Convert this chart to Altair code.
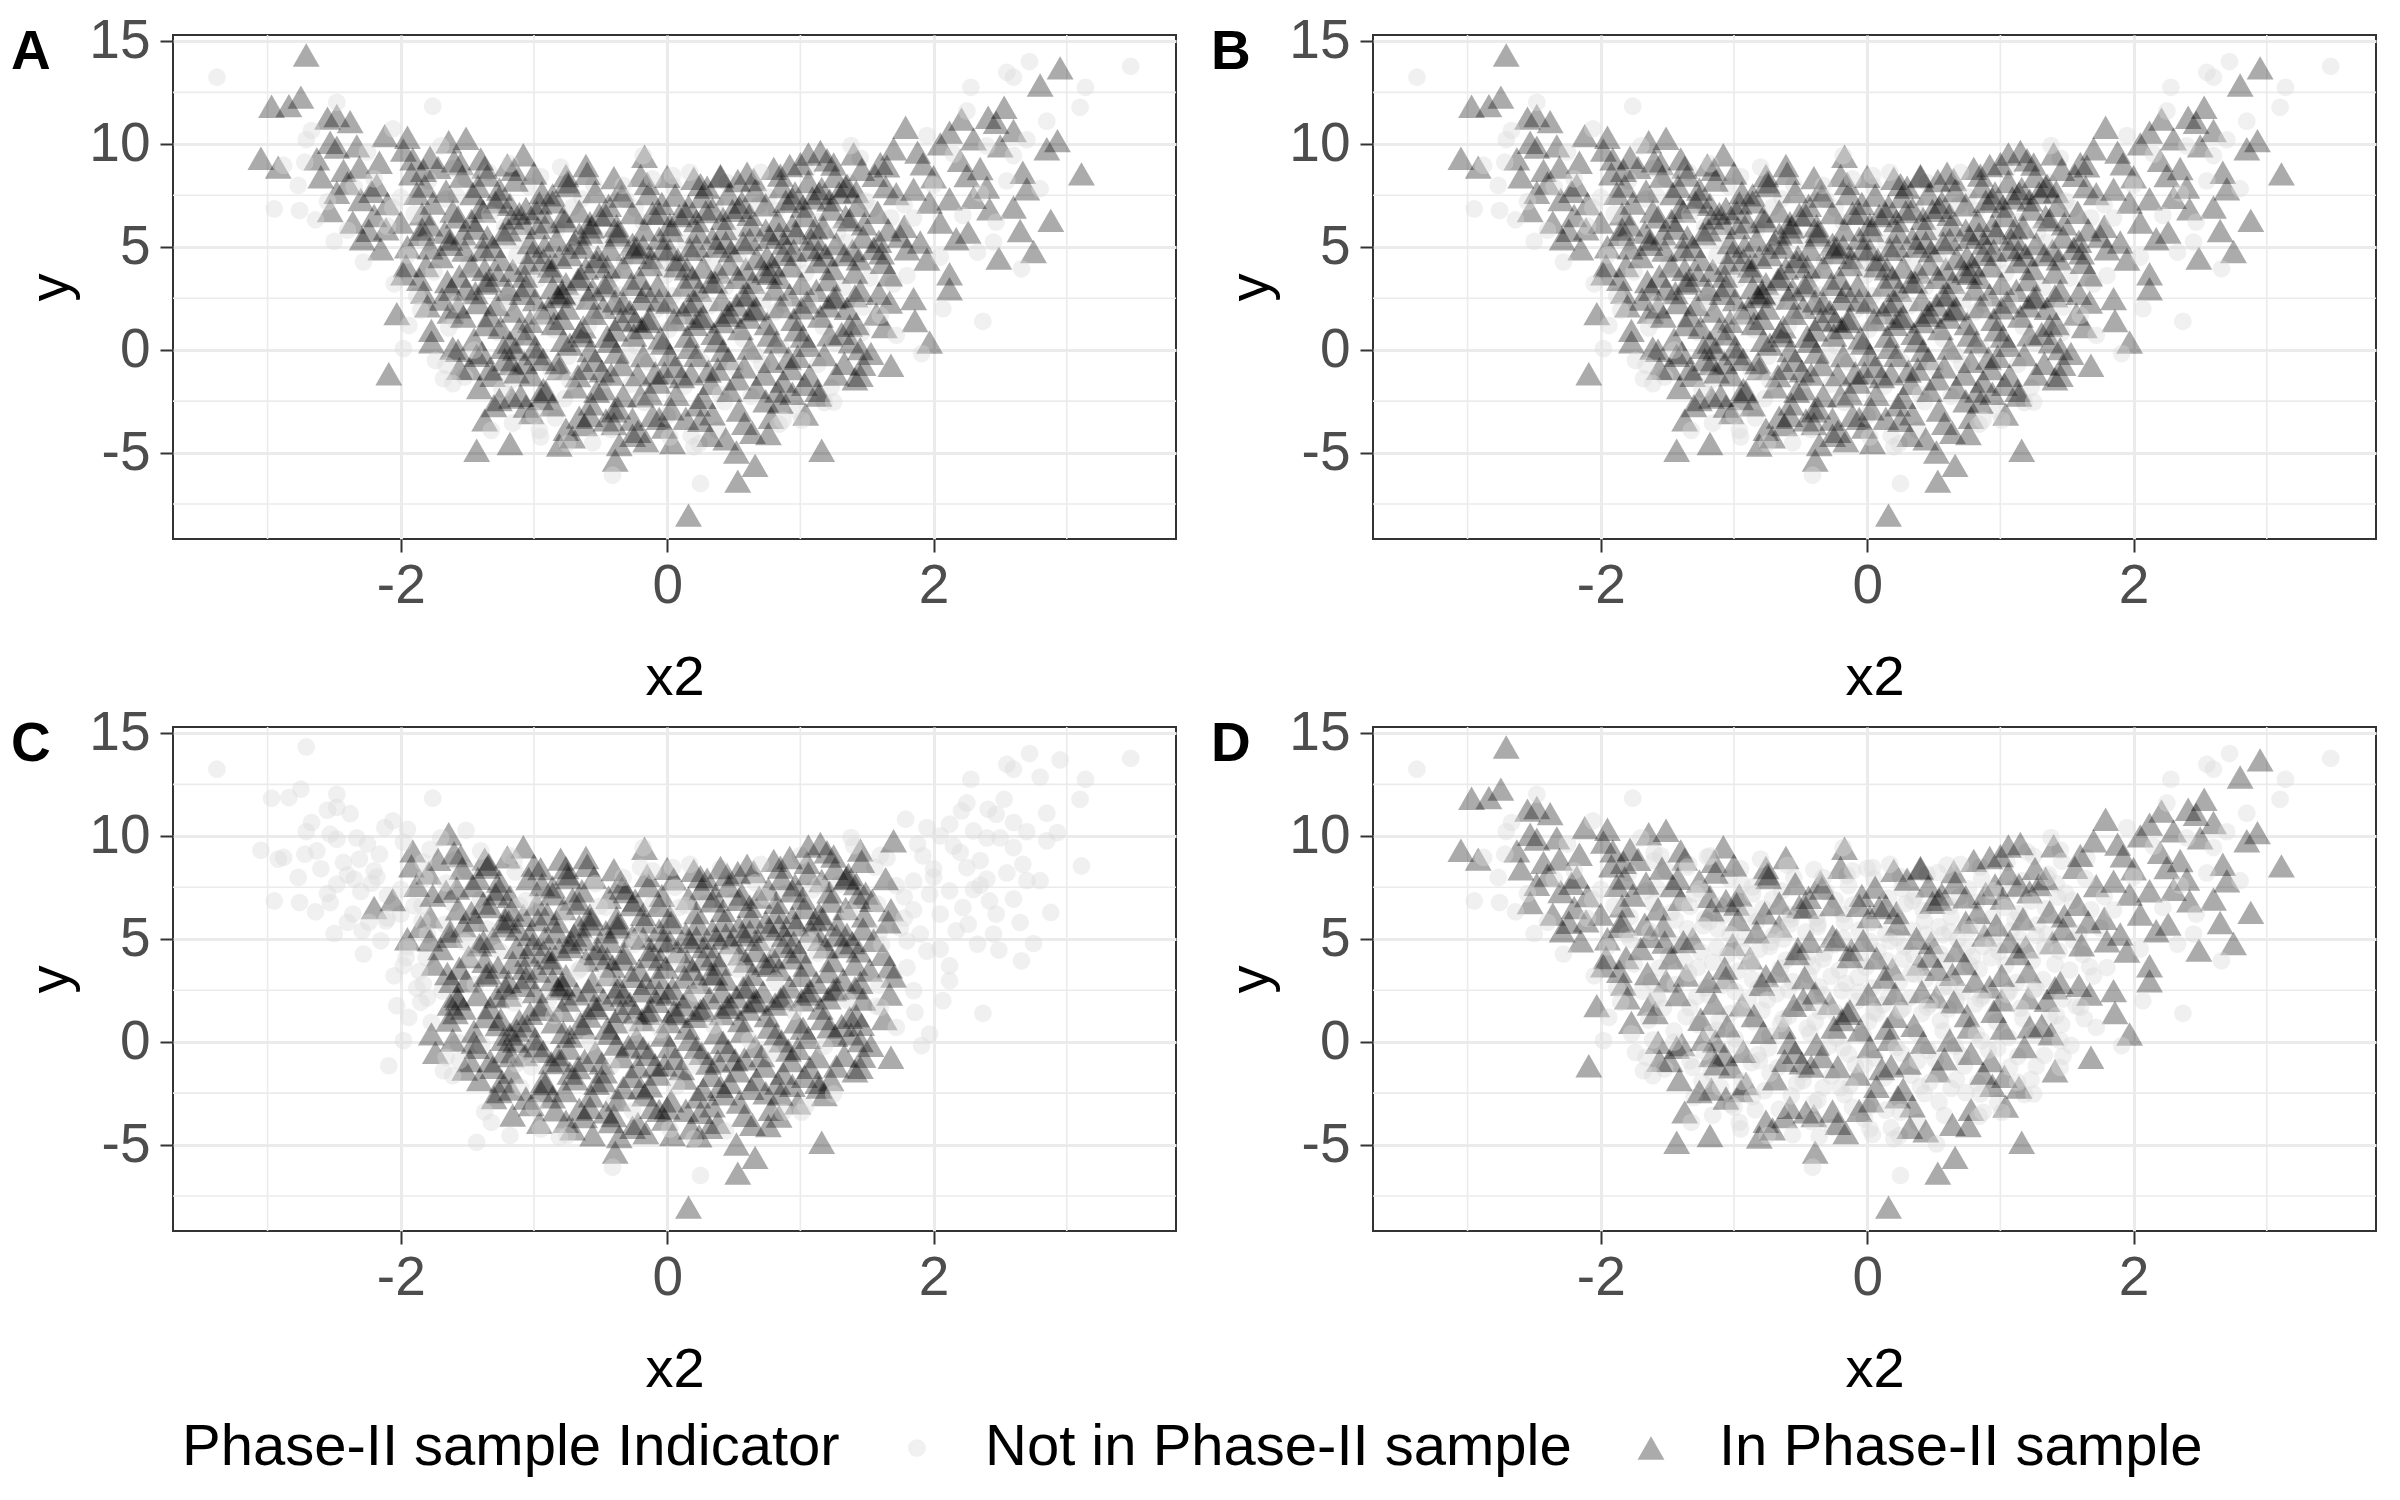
import altair as alt
import pandas as pd

FONT = "Liberation Sans"
NOT_IN = "Not in Phase-II sample"
IN = "In Phase-II sample"

# (x2, y, panels in which the point is in the Phase-II sample: a = A/B, c = C, d = D)
left_tail = [
    (-2.71, 14.32, "ad"), (-2.97, 11.83, "ad"), (-2.84, 11.86, "ad"), (-2.75, 12.27, "ad"),
    (-2.55, 11.25, "ad"), (-2.48, 11.38, "ad"), (-2.38, 11.08, "ad"), (-3.05, 9.30, "ad"),
    (-2.92, 8.87, "ad"), (-2.53, 10.08, "ad"), (-2.63, 9.27, "ad"), (-2.48, 9.84, "ad"),
    (-2.12, 10.40, "ad"), (-1.95, 10.32, "ad"), (-1.64, 10.10, "acd"), (-1.51, 10.27, "ad"),
    (-1.08, 9.47, "acd"), (-0.61, 8.95, "acd"), (-0.17, 9.40, "acd"), (-0.76, 8.46, "acd"),
    (-2.43, 8.71, "ad"), (-2.31, 8.87, "ad"), (-2.16, 9.11, "ad"), (-2.48, 7.65, "ad"),
    (-2.53, 6.76, "ad"), (-2.36, 6.20, "ad"), (-2.20, 6.52, "acd"), (-2.29, 5.39, "ad"),
    (-2.11, 5.87, "ad"), (-1.91, 9.27, "acd"), (-1.78, 9.35, "ad"), (-1.37, 8.87, "acd"),
    (-1.98, 3.69, "ad"), (-1.83, 2.80, "ad"), (-2.03, 1.75, "ad"), (-1.77, 0.94, "ad"),
    (-1.57, -0.03, "ad"), (-2.09, -1.17, "ad"), (-1.17, -0.68, "acd"), (-1.17, -2.30, "acd"),
    (-0.95, -2.38, "acd"), (-1.43, -4.89, "ad"), (-1.18, -4.56, "ad"), (-0.71, -4.24, "acd"),
    (-0.39, -5.37, "acd"), (-0.58, -3.19, "acd"), (-0.40, -3.59, "acd"), (-0.26, -4.16, "ac"),
    (-0.11, -3.19, "ac"), (0.16, -8.04, "acd"), (-1.31, -1.25, "ac"), (-0.48, -1.89, "ac"),
    (-1.48, -0.92, "acd"), (-0.81, -0.92, "ac"), (-1.11, 1.02, "ac"), (-1.63, 1.83, "acd"),
    (-1.51, 2.96, "acd"), (-1.96, 4.09, "ad"), (-1.81, 4.09, "ad"),
]
left_arm = [
    (-2.40, 8.10, "ad"), (-2.22, 7.70, "ad"), (-1.92, 8.55, "acd"), (-2.30, 7.30, "ad"),
    (-2.10, 7.10, "ad"), (-1.88, 7.60, "acd"), (-2.00, 6.20, "ad"), (-1.85, 5.60, "acd"),
    (-2.15, 4.90, "ad"), (-1.95, 5.00, "acd"), (-2.06, 6.90, "c"), (-2.60, 8.40, "ad"),
    (-2.18, 8.00, "ad"), (-1.98, 9.70, "ad"), (-2.33, 9.90, "ad"), (-1.84, 6.60, "ad"),
    (-2.24, 5.80, "ad"),
    (-2.35, 7.90, ""), (-2.20, 8.30, ""), (-2.00, 7.40, ""), (-1.90, 6.60, ""),
    (-2.10, 6.00, ""), (-1.80, 5.20, ""), (-2.40, 5.80, ""), (-1.95, 4.60, ""),
    (-2.25, 9.60, ""), (-1.70, 9.90, ""), (-1.60, 8.80, ""), (-2.55, 7.20, ""),
    (-2.05, 3.20, ""), (-1.88, 2.60, ""),
]
left_circles = [
    (-3.38, 13.24, ""), (-1.76, 11.83, ""), (-2.67, 10.65, ""), (-2.71, 10.21, ""),
    (-2.77, 7.98, ""), (-2.72, 9.11, ""), (-2.88, 8.95, ""), (-2.95, 6.84, ""),
    (-2.76, 6.76, ""), (-2.64, 6.31, ""), (-2.50, 5.26, ""), (-2.28, 4.26, ""),
    (-2.48, 12.02, ""), (-2.06, 10.73, ""), (-1.98, 0.05, ""), (-1.94, 1.18, ""),
    (-1.85, 1.91, ""), (-1.68, -1.41, ""), (-1.61, -1.65, ""), (-1.66, -0.76, ""),
    (-1.32, -3.92, ""), (-0.95, -4.24, ""), (-0.75, -4.56, ""), (-0.41, -6.10, ""),
    (0.02, -4.24, ""), (-1.00, -3.19, ""), (-1.18, 9.03, ""), (-0.18, 9.43, ""),
    (-0.11, 8.30, ""), (0.04, 8.46, ""), (-0.33, 7.98, ""),
]
right_tail = [
    (2.95, 13.69, "ad"), (2.80, 12.86, "ad"), (2.53, 11.78, "ad"), (2.41, 11.29, "ad"),
    (2.21, 11.21, "ad"), (2.12, 10.57, "ad"), (2.60, 10.65, "ad"), (2.93, 10.16, "ad"),
    (2.85, 9.76, "ad"), (3.11, 8.54, "ad"), (2.67, 8.62, "ad"), (2.70, 7.82, "ad"),
    (2.60, 6.93, "ad"), (2.42, 6.84, "ad"), (2.88, 6.28, "ad"), (2.65, 5.79, "ad"),
    (2.75, 4.77, "ad"), (2.49, 4.45, "ad"), (2.26, 5.71, "ad"), (2.12, 3.69, "ad"),
    (2.12, 2.96, "ad"), (1.97, 0.37, "ad"), (1.86, 1.42, "ad"), (1.67, 2.31, "acd"),
    (1.68, -0.76, "acd"), (1.41, -1.41, "acd"), (1.16, -4.89, "acd"), (0.76, -4.08, "acd"),
    (0.53, -6.39, "acd"), (0.66, -5.62, "acd"), (0.52, -4.97, "ac"), (1.13, -1.97, "ac"),
    (0.85, -2.54, "ac"), (1.79, 10.81, "ad"), (1.15, 9.63, "acd"), (1.06, 9.51, "acd"),
    (0.92, 8.95, "acd"), (0.40, 8.46, "acd"), (0.53, 8.22, "ac"), (0.30, 7.90, "acd"),
    (1.35, 7.98, "ac"), (1.70, 9.76, "acd"), (1.92, 9.03, "ad"), (2.30, 10.24, "ad"),
    (2.47, 11.05, "ad"), (2.25, 8.46, "ad"), (1.97, 7.17, "ad"), (2.12, 7.33, "ad"),
    (1.90, 5.23, "ad"), (2.17, 5.39, "ad"), (1.85, 2.48, "ad"), (1.45, 0.05, "ac"),
    (1.45, -1.25, "ac"), (0.25, -3.43, "ac"), (0.32, -4.16, "acd"),
]
right_arm = [
    (2.00, 8.40, "ad"), (2.30, 7.40, "ad"), (1.85, 7.80, "ad"), (2.05, 6.20, "ad"),
    (2.35, 8.80, "ad"), (1.78, 6.00, "ad"), (1.95, 4.40, "ad"), (2.20, 9.20, "ad"),
    (2.50, 9.90, "ad"), (1.80, 4.90, "ad"), (2.05, 10.00, "ad"), (1.88, 9.60, "ad"),
    (2.40, 7.90, "ad"),
    (2.00, 8.00, ""), (2.15, 9.50, ""), (2.35, 7.60, ""), (1.85, 6.40, ""),
    (2.05, 4.50, ""), (2.55, 8.20, ""), (1.80, 3.60, ""), (2.40, 9.90, ""),
    (2.70, 10.20, ""), (1.95, 10.40, ""), (2.25, 11.60, ""), (2.85, 11.10, ""),
]
right_circles = [
    (3.48, 13.77, ""), (2.72, 14.00, ""), (2.60, 13.24, ""), (2.55, 13.48, ""),
    (3.14, 12.75, ""), (3.10, 11.78, ""), (2.28, 12.75, ""), (2.66, 3.93, ""),
    (2.37, 1.38, ""), (1.91, -0.19, ""), (1.72, 0.70, ""), (1.25, -2.54, ""),
    (1.01, -3.43, ""), (0.87, -3.43, ""), (0.25, -6.50, ""), (0.20, -4.72, ""),
    (1.38, 9.92, ""), (2.07, 1.99, ""), (2.60, 9.43, ""), (2.80, 7.82, ""),
    (2.47, 6.20, ""), (2.45, 5.23, ""), (2.33, 4.74, ""), (0.17, 8.62, ""),
    (0.70, 8.62, ""), (2.22, 6.52, ""), (1.60, 1.67, ""),
]
core = [
    (-1.72, 8.86, "acd"), (-1.66, 7.31, "c"), (-1.78, 6.07, "ac"), (-1.63, 5.12, "acd"),
    (-1.75, 3.77, "c"), (-1.69, 2.46, "a"), (-1.64, 1.05, "c"), (-1.77, 0.38, "ac"),
    (-1.61, 6.73, "a"), (-1.70, 4.52, "acd"), (-1.79, 8.21, "c"), (-1.62, 2.93, "ac"),
    (-1.74, -0.52, "c"), (-1.67, 5.71, "ad"),
    (-1.55, 9.04, "ac"), (-1.42, 7.94, "acd"), (-1.58, 7.47, "c"), (-1.47, 6.28, "ac"),
    (-1.53, 5.63, "acd"), (-1.41, 4.71, "c"), (-1.56, 3.58, "ac"), (-1.44, 2.77, "a"),
    (-1.59, 1.42, "cd"), (-1.45, 0.51, "ac"), (-1.52, -1.33, "c"), (-1.40, 6.92, "ad"),
    (-1.49, 4.13, "c"), (-1.57, 2.08, "ac"), (-1.43, -0.27, "acd"), (-1.51, 8.32, ""),
    (-1.34, 8.62, "c"), (-1.26, 7.81, "acd"), (-1.38, 6.74, "ac"), (-1.22, 5.97, "c"),
    (-1.31, 5.02, "acd"), (-1.25, 4.38, "a"), (-1.36, 3.24, "acd"), (-1.21, 2.61, "c"),
    (-1.33, 1.66, "ac"), (-1.27, 0.83, "c"), (-1.39, -0.14, "ad"), (-1.24, -1.92, "c"),
    (-1.29, 7.18, "ac"), (-1.37, 3.91, "ac"), (-1.23, 0.12, "acd"), (-1.30, -2.71, "ac"),
    (-1.35, 5.48, "a"), (-1.28, 2.19, "ac"),
    (-1.15, 8.77, "ad"), (-1.04, 7.93, "c"), (-1.18, 7.06, "acd"), (-1.08, 6.14, "ac"),
    (-1.12, 5.47, "c"), (-1.01, 4.73, "acd"), (-1.16, 3.86, "ac"), (-1.06, 3.12, "acd"),
    (-1.19, 2.27, "c"), (-1.03, 1.38, "ac"), (-1.13, 0.56, "c"), (-1.07, -0.63, "acd"),
    (-1.17, -1.48, "c"), (-1.02, -3.06, "ac"), (-1.11, 6.62, "a"), (-1.09, 2.74, "ac"),
    (-1.14, 0.03, "acd"), (-1.05, 4.21, "ac"), (-1.10, -2.22, "a"), (-1.19, 5.83, "ac"),
    (-0.95, 8.41, "c"), (-0.86, 7.52, "ac"), (-0.98, 6.69, "acd"), (-0.83, 5.84, "c"),
    (-0.92, 5.03, "ac"), (-0.88, 4.07, "acd"), (-0.97, 3.43, "c"), (-0.82, 2.58, "ac"),
    (-0.94, 1.79, "acd"), (-0.85, 0.96, "c"), (-0.99, 0.14, "ac"), (-0.87, -1.02, "c"),
    (-0.91, -2.03, "acd"), (-0.84, -3.31, "c"), (-0.96, 7.13, "ad"), (-0.81, 4.49, "ac"),
    (-0.89, 2.04, "a"), (-0.93, -0.47, "acd"), (-0.90, 6.21, "ac"), (-0.86, 3.02, "ac"),
    (-0.75, 8.16, "acd"), (-0.64, 7.33, "c"), (-0.78, 6.47, "ac"), (-0.66, 5.62, "acd"),
    (-0.72, 4.84, "c"), (-0.61, 3.96, "ac"), (-0.76, 3.21, "acd"), (-0.68, 2.33, "c"),
    (-0.79, 1.52, "ac"), (-0.63, 0.68, "acd"), (-0.74, -0.31, "c"), (-0.67, -1.26, "ac"),
    (-0.77, -2.38, "c"), (-0.62, -3.64, "acd"), (-0.71, 6.93, "c"), (-0.65, 3.57, "a"),
    (-0.73, 0.27, "ac"), (-0.69, -1.81, "acd"), (-0.70, 5.18, "ac"), (-0.78, 2.71, "ac"),
    (-0.63, 1.11, "a"),
    (-0.55, 7.98, "c"), (-0.44, 7.02, "acd"), (-0.58, 6.17, "ac"), (-0.46, 5.34, "c"),
    (-0.52, 4.53, "acd"), (-0.41, 3.68, "c"), (-0.56, 2.92, "ac"), (-0.48, 2.06, "acd"),
    (-0.59, 1.24, "c"), (-0.43, 0.41, "ac"), (-0.54, -0.52, "acd"), (-0.47, -1.47, "c"),
    (-0.57, -2.63, "ac"), (-0.42, -3.88, "c"), (-0.51, 6.58, "ad"), (-0.45, 4.04, "ac"),
    (-0.53, 1.63, "c"), (-0.49, -1.03, "acd"), (-0.40, -2.97, "a"), (-0.58, 5.71, "ac"),
    (-0.44, 3.26, "ac"),
    (-0.35, 7.77, "acd"), (-0.24, 6.88, "c"), (-0.38, 6.02, "ac"), (-0.26, 5.13, "acd"),
    (-0.32, 4.31, "c"), (-0.21, 3.48, "ac"), (-0.36, 2.66, "c"), (-0.28, 1.87, "acd"),
    (-0.39, 0.97, "ac"), (-0.23, 0.18, "c"), (-0.34, -0.72, "acd"), (-0.27, -1.68, "c"),
    (-0.37, -2.83, "ac"), (-0.22, -3.97, "acd"), (-0.31, 7.29, "c"), (-0.25, 4.72, "a"),
    (-0.33, 2.27, "ac"), (-0.29, -0.21, "c"), (-0.20, -2.24, "ac"), (-0.37, 5.58, "ac"),
    (-0.24, 1.42, "ac"),
    (-0.15, 8.08, "ac"), (-0.04, 7.11, "acd"), (-0.18, 6.19, "c"), (-0.06, 5.42, "ac"),
    (-0.12, 4.47, "acd"), (-0.01, 3.62, "c"), (-0.16, 2.83, "ac"), (-0.08, 1.96, "c"),
    (-0.19, 1.07, "acd"), (-0.03, 0.32, "ac"), (-0.14, -0.61, "c"), (-0.07, -1.57, "acd"),
    (-0.17, -2.58, "c"), (-0.02, -3.76, "ac"), (-0.11, 6.64, "a"), (-0.05, 4.02, "c"),
    (-0.13, 1.51, "acd"), (-0.09, -1.12, "ac"), (0.00, -3.21, "c"), (-0.18, 5.03, "ac"),
    (-0.06, 2.41, "ac"),
    (0.05, 7.91, "c"), (0.16, 6.97, "ac"), (0.02, 6.08, "acd"), (0.14, 5.23, "c"),
    (0.08, 4.38, "ac"), (0.19, 3.53, "acd"), (0.04, 2.61, "c"), (0.12, 1.79, "ac"),
    (0.01, 0.98, "c"), (0.17, 0.12, "acd"), (0.06, -0.81, "ac"), (0.13, -1.77, "c"),
    (0.03, -2.87, "acd"), (0.18, -4.18, "c"), (0.09, 6.52, "ad"), (0.15, 3.93, "ac"),
    (0.07, 1.37, "c"), (0.11, -1.31, "acd"), (0.02, 4.86, "ac"), (0.16, 2.18, "ac"),
    (0.25, 8.02, "ac"), (0.36, 7.08, "c"), (0.22, 6.27, "acd"), (0.34, 5.41, "ac"),
    (0.28, 4.62, "c"), (0.39, 3.77, "acd"), (0.24, 2.88, "ac"), (0.32, 2.13, "c"),
    (0.21, 1.23, "acd"), (0.37, 0.43, "ac"), (0.26, -0.57, "c"), (0.33, -1.63, "ac"),
    (0.23, -2.68, "acd"), (0.38, -3.92, "c"), (0.29, 6.71, "a"), (0.35, 4.19, "c"),
    (0.27, 1.62, "ac"), (0.31, -1.04, "acd"), (0.40, -2.17, "c"), (0.22, 5.06, "ac"),
    (0.36, 3.28, "ac"),
    (0.45, 8.12, "c"), (0.56, 7.17, "acd"), (0.42, 6.38, "ac"), (0.54, 5.59, "c"),
    (0.48, 4.81, "acd"), (0.59, 3.92, "ac"), (0.44, 3.04, "c"), (0.52, 2.18, "acd"),
    (0.41, 1.37, "ac"), (0.57, 0.52, "c"), (0.46, -0.43, "ac"), (0.53, -1.42, "acd"),
    (0.43, -2.53, "c"), (0.58, -3.58, "ac"), (0.49, 6.77, "ad"), (0.55, 4.27, "c"),
    (0.47, 1.83, "ac"), (0.51, -0.88, "c"), (0.44, 5.21, "ac"), (0.57, 2.63, "ac"),
    (0.65, 8.27, "acd"), (0.76, 7.42, "c"), (0.62, 6.58, "ac"), (0.74, 5.81, "acd"),
    (0.68, 4.97, "c"), (0.79, 4.13, "ac"), (0.64, 3.27, "acd"), (0.72, 2.42, "c"),
    (0.61, 1.58, "ac"), (0.77, 0.71, "acd"), (0.66, -0.23, "c"), (0.73, -1.18, "ac"),
    (0.63, -2.27, "c"), (0.78, -3.29, "acd"), (0.69, 7.03, "c"), (0.75, 4.52, "a"),
    (0.67, 2.01, "ac"), (0.71, -0.68, "c"), (0.62, 5.36, "ac"), (0.77, 3.71, "ac"),
    (0.85, 8.48, "ac"), (0.96, 7.62, "acd"), (0.82, 6.77, "c"), (0.94, 6.03, "ac"),
    (0.88, 5.18, "acd"), (0.99, 4.37, "c"), (0.84, 3.52, "ac"), (0.92, 2.67, "acd"),
    (0.81, 1.83, "c"), (0.97, 0.96, "ac"), (0.86, 0.04, "c"), (0.93, -0.92, "acd"),
    (0.83, -2.01, "ac"), (0.98, -2.97, "c"), (0.89, 7.21, "ad"), (0.95, 4.83, "ac"),
    (0.87, 2.22, "c"), (0.91, -0.41, "ac"), (0.84, 5.64, "ac"),
    (1.05, 8.71, "c"), (1.16, 7.83, "ac"), (1.02, 6.98, "acd"), (1.14, 6.22, "c"),
    (1.08, 5.38, "ac"), (1.19, 4.61, "acd"), (1.04, 3.72, "c"), (1.12, 2.88, "ac"),
    (1.01, 2.03, "acd"), (1.17, 1.12, "c"), (1.06, 0.21, "ac"), (1.13, -0.72, "c"),
    (1.03, -1.68, "acd"), (1.18, -2.57, "c"), (1.09, 7.38, "a"), (1.15, 4.97, "ac"),
    (1.07, 2.47, "c"), (1.11, 5.92, "ac"),
    (1.25, 9.02, "ac"), (1.36, 8.13, "c"), (1.22, 7.28, "acd"), (1.34, 6.47, "ac"),
    (1.28, 5.68, "c"), (1.39, 4.82, "acd"), (1.24, 3.94, "ac"), (1.32, 3.01, "c"),
    (1.21, 2.13, "acd"), (1.37, 1.18, "ac"), (1.26, 0.31, "c"), (1.33, -0.66, "ac"),
    (1.23, -1.84, "c"), (1.29, 7.63, "ad"), (1.35, 5.22, "c"), (1.27, 2.58, "ac"),
    (1.31, 0.79, "acd"),
    (1.45, 9.31, "c"), (1.56, 8.47, "ad"), (1.42, 7.68, "ac"), (1.54, 6.87, "c"),
    (1.48, 6.12, "acd"), (1.59, 5.27, "a"), (1.44, 4.41, "ac"), (1.52, 3.48, "c"),
    (1.41, 2.62, "acd"), (1.57, 1.73, "a"), (1.46, 0.84, "c"), (1.53, -0.18, "ac"),
    (1.49, 7.22, "c"), (1.55, 4.93, "ac"), (1.47, 2.07, "c"),
    (1.65, 8.93, "a"), (1.72, 7.58, "ad"), (1.68, 6.41, "c"), (1.75, 5.52, "a"),
    (1.62, 4.24, "ac"), (1.70, 3.19, "c"), (1.78, 7.04, ""),
]
core_b = [
    (-1.60, 9.18, "ac"), (-1.54, 8.43, "acd"), (-1.66, 7.71, "ad"), (-1.57, 6.46, "acd"),
    (-1.63, 5.37, "ac"), (-1.52, 4.84, "ad"), (-1.65, 3.31, "acd"), (-1.58, 2.22, "c"),
    (-1.53, 1.63, "ac"), (-1.61, 0.08, "ac"), (-1.56, -0.91, "ad"),
    (-1.40, 9.27, "ad"), (-1.35, 8.48, "ac"), (-1.46, 7.59, "acd"), (-1.33, 6.57, "c"),
    (-1.44, 5.91, "ac"), (-1.38, 4.86, "acd"), (-1.47, 4.08, "ad"), (-1.34, 3.34, "ac"),
    (-1.42, 2.29, "acd"), (-1.36, 1.22, "ac"), (-1.45, -0.02, "c"), (-1.33, -0.93, "ac"),
    (-1.41, -1.84, "acd"), (-1.37, -3.41, "ad"),
    (-1.20, 8.98, "ac"), (-1.14, 8.24, "ad"), (-1.26, 7.42, "ac"), (-1.17, 6.41, "acd"),
    (-1.23, 5.63, "ac"), (-1.13, 4.58, "c"), (-1.27, 3.62, "ac"), (-1.19, 2.93, "acd"),
    (-1.15, 1.88, "ad"), (-1.25, 1.09, "acd"), (-1.18, 0.37, "ac"), (-1.22, -0.48, "ac"),
    (-1.13, -1.07, "ad"), (-1.26, -2.42, "acd"), (-1.16, -3.57, "c"),
    (-1.00, 8.58, "acd"), (-0.94, 7.64, "ac"), (-1.06, 6.86, "ad"), (-0.97, 5.93, "acd"),
    (-1.03, 5.21, "ac"), (-0.93, 4.37, "ac"), (-1.07, 3.58, "acd"), (-0.99, 2.44, "ac"),
    (-0.95, 1.57, "c"), (-1.05, 0.77, "acd"), (-0.98, -0.19, "ac"), (-1.02, -1.22, "ad"),
    (-0.93, -1.93, "ac"), (-1.06, -2.74, "acd"), (-0.96, -3.92, "c"),
    (-0.80, 8.87, "c"), (-0.74, 7.97, "acd"), (-0.86, 7.18, "ac"), (-0.77, 6.26, "ad"),
    (-0.83, 5.34, "acd"), (-0.73, 4.62, "ac"), (-0.87, 3.81, "ac"), (-0.79, 2.79, "acd"),
    (-0.75, 2.02, "ac"), (-0.85, 1.27, "ad"), (-0.78, 0.46, "acd"), (-0.82, -0.63, "ac"),
    (-0.73, -1.52, "c"), (-0.86, -2.68, "ac"), (-0.76, -3.87, "acd"), (-0.81, -4.63, "ad"),
    (-0.60, 8.57, "ac"), (-0.54, 7.68, "ad"), (-0.66, 6.74, "acd"), (-0.57, 5.97, "ac"),
    (-0.63, 4.98, "ac"), (-0.53, 4.28, "acd"), (-0.67, 3.43, "ad"), (-0.59, 2.51, "ac"),
    (-0.55, 1.77, "acd"), (-0.65, 0.88, "ac"), (-0.58, -0.04, "ad"), (-0.62, -0.91, "acd"),
    (-0.53, -2.02, "ac"), (-0.66, -3.28, "ac"), (-0.56, -4.52, "c"),
    (-0.40, 8.36, "ac"), (-0.34, 7.47, "acd"), (-0.46, 6.53, "ad"), (-0.37, 5.74, "ac"),
    (-0.43, 4.88, "acd"), (-0.33, 4.02, "ac"), (-0.47, 3.12, "ad"), (-0.39, 2.37, "acd"),
    (-0.35, 1.48, "ac"), (-0.45, 0.66, "ac"), (-0.38, -0.12, "acd"), (-0.42, -1.19, "ad"),
    (-0.33, -2.23, "ac"), (-0.46, -3.41, "acd"), (-0.36, -4.61, "ac"),
    (-0.20, 8.47, "ad"), (-0.14, 7.58, "ac"), (-0.26, 6.66, "acd"), (-0.17, 5.82, "ac"),
    (-0.23, 4.96, "ad"), (-0.13, 4.13, "acd"), (-0.27, 3.18, "ac"), (-0.19, 2.47, "ac"),
    (-0.15, 1.38, "acd"), (-0.25, 0.71, "ad"), (-0.18, -0.29, "ac"), (-0.22, -1.21, "acd"),
    (-0.13, -2.14, "ac"), (-0.26, -3.37, "ad"), (-0.16, -4.42, "acd"),
    (0.00, 8.42, "ac"), (0.06, 7.51, "ad"), (-0.06, 6.63, "acd"), (0.03, 5.79, "ac"),
    (-0.03, 4.92, "acd"), (0.07, 4.07, "ad"), (-0.07, 3.13, "ac"), (0.01, 2.31, "acd"),
    (0.05, 1.46, "ac"), (-0.05, 0.58, "ad"), (0.02, -0.24, "acd"), (-0.02, -1.13, "ac"),
    (0.07, -2.17, "ad"), (-0.06, -3.34, "acd"), (0.04, -4.51, "ac"),
    (0.20, 8.33, "acd"), (0.26, 7.44, "ac"), (0.14, 6.62, "ad"), (0.23, 5.73, "acd"),
    (0.17, 4.88, "ac"), (0.27, 4.02, "ac"), (0.13, 3.14, "acd"), (0.21, 2.34, "ad"),
    (0.25, 1.52, "ac"), (0.15, 0.66, "acd"), (0.22, -0.28, "ac"), (0.18, -1.17, "ad"),
    (0.27, -2.31, "acd"), (0.14, -3.33, "ac"), (0.24, -4.57, "c"),
    (0.40, 8.41, "ad"), (0.46, 7.57, "acd"), (0.34, 6.84, "ac"), (0.43, 5.88, "ac"),
    (0.37, 5.03, "acd"), (0.47, 4.16, "ad"), (0.33, 3.31, "ac"), (0.41, 2.44, "acd"),
    (0.45, 1.67, "ac"), (0.35, 0.79, "ad"), (0.42, -0.03, "acd"), (0.38, -0.94, "ac"),
    (0.47, -1.98, "ac"), (0.34, -3.12, "acd"), (0.44, -4.33, "ad"),
    (0.60, 8.58, "ac"), (0.66, 7.73, "ad"), (0.54, 6.92, "acd"), (0.63, 6.07, "ac"),
    (0.57, 5.19, "ac"), (0.67, 4.43, "acd"), (0.53, 3.52, "ad"), (0.61, 2.68, "ac"),
    (0.65, 1.94, "acd"), (0.55, 1.02, "ac"), (0.62, 0.08, "ad"), (0.58, -0.83, "acd"),
    (0.67, -1.84, "ac"), (0.54, -2.93, "ac"), (0.64, -4.02, "acd"),
    (0.80, 8.81, "acd"), (0.86, 7.93, "ac"), (0.74, 7.04, "ad"), (0.83, 6.28, "acd"),
    (0.77, 5.47, "ac"), (0.87, 4.63, "ac"), (0.73, 3.79, "acd"), (0.81, 2.94, "ad"),
    (0.85, 2.09, "ac"), (0.75, 1.27, "acd"), (0.82, 0.38, "ac"), (0.78, -0.57, "ad"),
    (0.87, -1.53, "acd"), (0.74, -2.48, "ac"), (0.84, -3.62, "c"),
    (1.00, 9.04, "ad"), (1.06, 8.17, "acd"), (0.94, 7.33, "ac"), (1.03, 6.52, "ac"),
    (0.97, 5.68, "acd"), (1.07, 4.87, "ad"), (0.93, 4.08, "ac"), (1.01, 3.22, "acd"),
    (1.05, 2.31, "ac"), (0.95, 1.48, "ad"), (1.02, 0.66, "acd"), (0.98, -0.32, "ac"),
    (1.07, -1.24, "ac"), (0.94, -2.12, "acd"), (1.04, -3.13, "ad"),
    (1.20, 9.23, "ac"), (1.26, 8.42, "acd"), (1.14, 7.61, "ad"), (1.23, 6.83, "ac"),
    (1.17, 5.97, "acd"), (1.27, 5.16, "ac"), (1.13, 4.28, "ad"), (1.21, 3.41, "acd"),
    (1.25, 2.52, "ac"), (1.15, 1.63, "ac"), (1.22, 0.72, "acd"), (1.18, -0.24, "ad"),
    (1.27, -1.19, "ac"), (1.14, -2.21, "acd"),
    (1.40, 9.52, "ad"), (1.46, 8.77, "ac"), (1.34, 7.93, "acd"), (1.43, 7.02, "ac"),
    (1.37, 6.31, "ad"), (1.47, 5.48, "acd"), (1.33, 4.62, "ac"), (1.41, 3.77, "ac"),
    (1.45, 2.88, "acd"), (1.35, 2.01, "ad"), (1.42, 1.27, "ac"), (1.38, 0.38, "acd"),
    (1.47, -0.71, "ac"),
    (1.60, 9.05, "ad"), (1.64, 7.92, "ac"), (1.58, 6.68, "ad"), (1.66, 5.83, "acd"),
    (1.61, 4.71, "ad"), (1.67, 3.64, "ac"), (1.59, 2.74, "ad"), (1.63, 1.12, "ac"),
    (-1.82, 7.95, "ad"), (-1.76, 7.12, "acd"), (-1.84, 5.86, "ad"), (-1.78, 4.95, "ac"),
    (-1.86, 3.42, "ad"), (-1.80, 2.13, "ad"), (-1.83, 8.72, "ad"),
]

x_breaks = [-2, 0, 2]
y_breaks = [-5, 0, 5, 10, 15]
x_minor = [-3, -1, 1, 3]
y_minor = [-7.5, -2.5, 2.5, 7.5, 12.5]
panels = [("A", "a"), ("B", "a"), ("C", "c"), ("D", "d")]
groups = [NOT_IN, IN]

rows = left_tail + core + left_arm + core_b + right_tail + right_arm + left_circles + right_circles

TRI = "M0,-1.32L1.52,1.32L-1.52,1.32Z"
xs = alt.Scale(domain=[-3.71, 3.82], nice=False, zero=False)
ys = alt.Scale(domain=[-9.20, 15.29], nice=False, zero=False)
x_axis = alt.Axis(values=x_breaks, labelExpr="'' + datum.value")
y_axis = alt.Axis(values=y_breaks, labelExpr="'' + datum.value")

legend = alt.Legend(
    orient="none", legendX=9, legendY=1384, direction="horizontal",
    titleOrient="left", title="Phase-II sample Indicator",
    titleFontSize=58, labelFontSize=58, titleFontWeight="normal",
    titleColor="#000000", labelColor="#000000", titleFont=FONT, labelFont=FONT,
    titleLimit=2000, labelLimit=2000,
    symbolSize=314, symbolStrokeWidth=0, titlePadding=48, labelOffset=39,
    columnPadding=50, titleBaseline="middle",
)


def panel(letter, key):
    df = pd.DataFrame(rows, columns=["x2", "y", "s"])
    df["grp"] = [IN if key in s else NOT_IN for s in df["s"]]
    pts = alt.Chart(df).mark_point(filled=True, size=314, opacity=1, strokeWidth=0).encode(
        x=alt.X("x2:Q", scale=xs, axis=x_axis, title="x2"),
        y=alt.Y("y:Q", scale=ys, axis=y_axis, title="y"),
        shape=alt.Shape("grp:N", scale=alt.Scale(domain=groups, range=["circle", TRI]), legend=legend),
        color=alt.Color("grp:N", scale=alt.Scale(domain=groups,
                        range=["rgba(217,217,217,0.4)", "rgba(0,0,0,0.33)"]), legend=legend),
    )
    mx = alt.Chart(pd.DataFrame({"x2": x_minor})).mark_rule(color="#EBEBEB", strokeWidth=1.6).encode(
        x=alt.X("x2:Q", scale=xs, axis=x_axis, title="x2"))
    my = alt.Chart(pd.DataFrame({"y": y_minor})).mark_rule(color="#EBEBEB", strokeWidth=1.6).encode(
        y=alt.Y("y:Q", scale=ys, axis=y_axis, title="y"))
    lab = alt.Chart(pd.DataFrame({"lab": [letter]})).mark_text(
        align="left", baseline="alphabetic", fontSize=55, fontWeight="bold", font=FONT, color="#000000"
    ).encode(text="lab:N", x=alt.value(-162), y=alt.value(34))
    return alt.layer(mx, my, pts, lab).properties(width=1003, height=504)


chart = alt.concat(
    *[panel(l, k) for l, k in panels], columns=2,
    spacing={"row": 188, "column": 197}, bounds="flush",
).properties(
    padding={"left": 2, "top": 4, "right": 5, "bottom": 5}
).configure(font=FONT).configure_view(
    stroke="#333333", strokeWidth=2
).configure_axis(
    domain=False, grid=True, gridColor="#EBEBEB", gridWidth=3,
    tickColor="#333333", tickWidth=2, tickSize=13,
    labelFontSize=55, labelColor="#4D4D4D", labelFont=FONT,
    titleFontSize=56, titleColor="#000000", titleFontWeight="normal", titleFont=FONT,
).configure_axisX(
    labelPadding=7, titlePadding=35, minExtent=76, maxExtent=76
).configure_axisY(
    labelPadding=10, titlePadding=10, minExtent=84, maxExtent=84
)

chart.save("out.html", embed_options={"renderer": "svg", "actions": False})
